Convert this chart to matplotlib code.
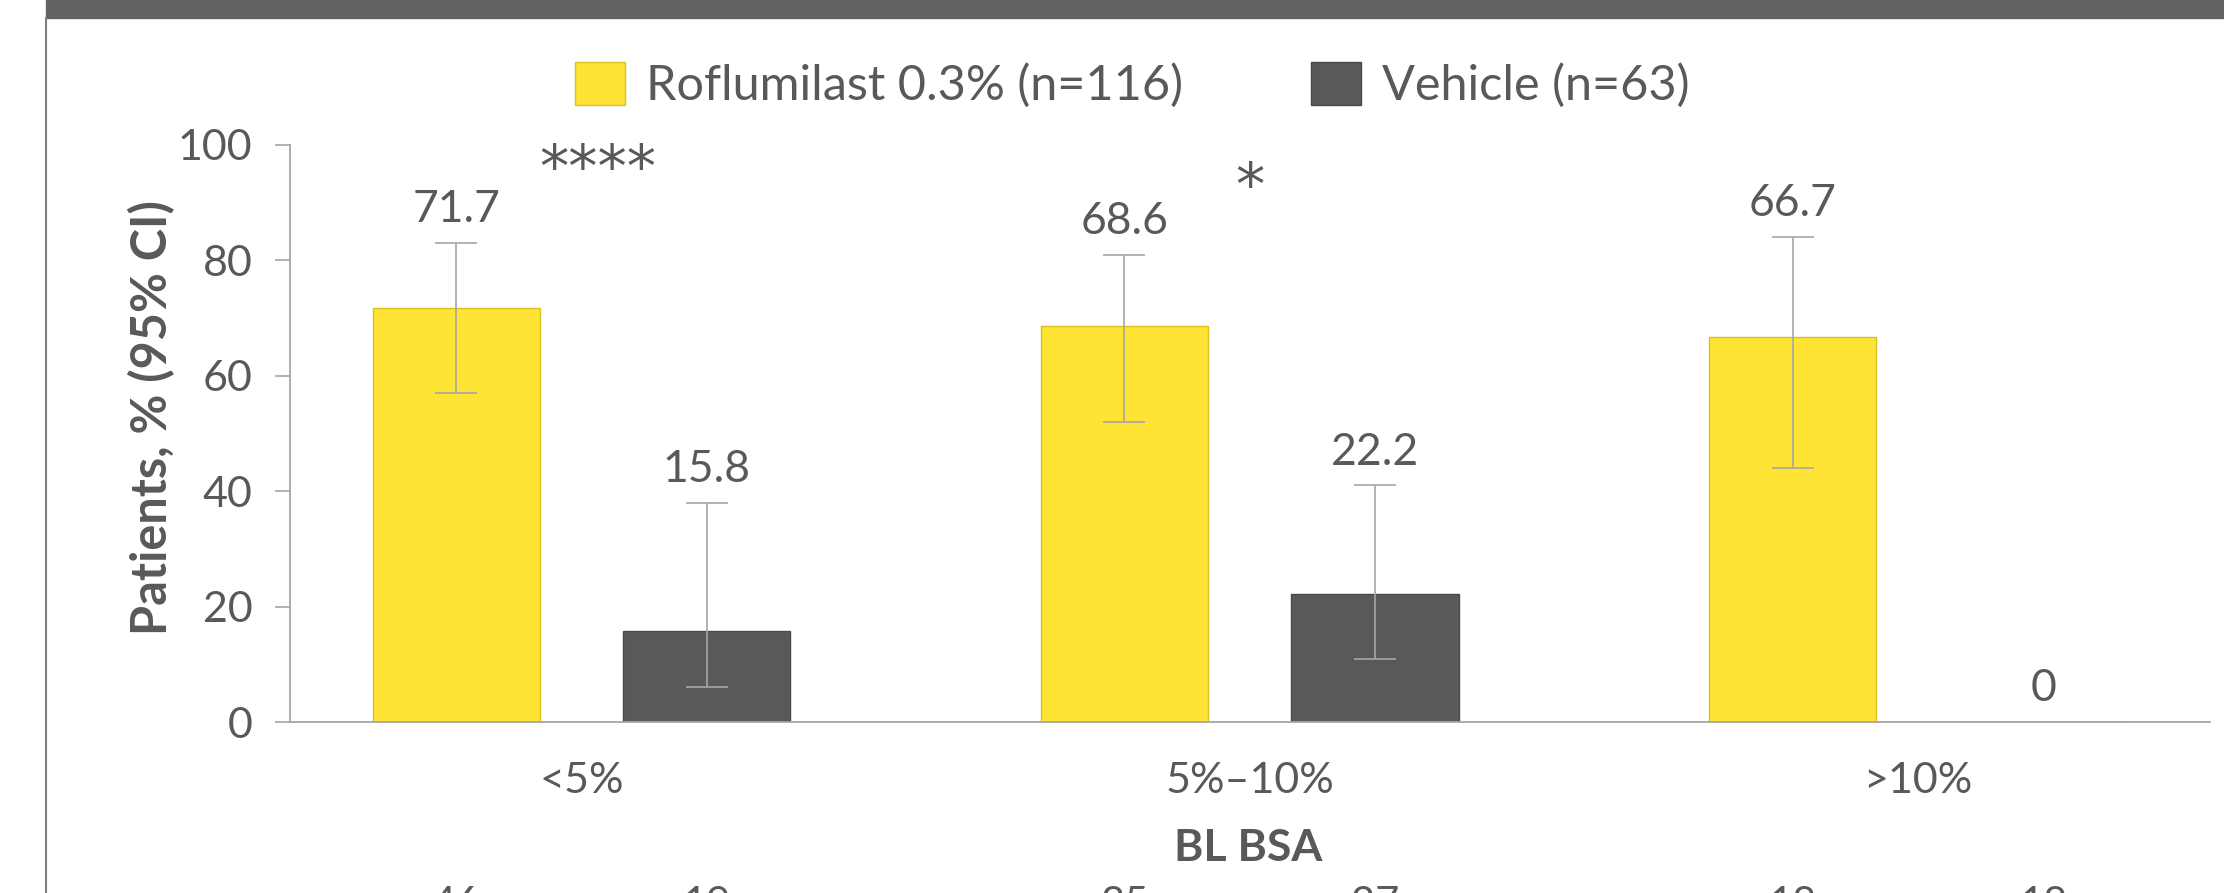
import numpy as np
import matplotlib.pyplot as plt
from matplotlib.patches import Rectangle
from matplotlib.lines import Line2D

# data
categories = ['<5%', '5%–10%', '>10%']
roflumilast = [71.7, 68.6, 66.7]
vehicle = [15.8, 22.2, 0]
rof_ci_low = [57, 52, 44]
rof_ci_high = [83, 81, 84]
veh_ci_low = [6, 11, np.nan]
veh_ci_high = [38, 41, np.nan]
rof_n = ['46', '35', '18']
veh_n = ['19', '27', '18']
stars = ['****', '*', '']

plt.rcParams['font.family'] = ['Lato', 'DejaVu Sans']
TEXT = '#595959'
YELLOW = '#FFE335'
DARK = '#595959'
GREY = '#A6A6A6'

W, H = 2224, 893
fig = plt.figure(figsize=(W / 100, H / 100), dpi=100)
ax = fig.add_axes([290 / W, 171 / H, 1920 / W, 577 / H])

x = np.arange(len(categories))
off = 0.1875
width = 0.25

ax.bar(x - off, roflumilast, width, color=YELLOW, edgecolor='#D9C21E', linewidth=1,
       label='Roflumilast 0.3% (n=116)', zorder=2)
ax.bar(x + off, vehicle, width, color=DARK, edgecolor='#4A4A4A', linewidth=1,
       label='Vehicle (n=63)', zorder=2)


def draw_ci(xpos, vals, lo, hi):
    vals = np.array(vals, dtype=float)
    err = [vals - np.array(lo, dtype=float), np.array(hi, dtype=float) - vals]
    ax.errorbar(xpos, vals, yerr=err, fmt='none', ecolor=GREY, elinewidth=1.2,
                capsize=15, capthick=1.2, zorder=3)


draw_ci(x - off, roflumilast, rof_ci_low, rof_ci_high)
draw_ci(x + off, vehicle, veh_ci_low, veh_ci_high)

# value labels above the CI
for xpos, vals, hi in [(x - off, roflumilast, rof_ci_high), (x + off, vehicle, veh_ci_high)]:
    for xi, v, h in zip(xpos, vals, hi):
        top = v if np.isnan(h) else h
        ax.annotate('{:g}'.format(v), (xi, top), xytext=(0, 15), textcoords='offset points',
                    ha='center', va='baseline', fontsize=32, color=TEXT)

# significance markers (DejaVu asterisk is closer in size to the original)
for xi, s in zip(x, stars):
    if s:
        many = len(s) > 1
        ax.text(xi + (0.025 if many else 0), 92.8 if many else 89.6, s,
                ha='center', va='baseline', fontsize=42, color=TEXT, family='DejaVu Sans')

# n per subgroup, cut by the lower image edge
for xpos, ns in [(x - off, rof_n), (x + off, veh_n)]:
    for xi, n in zip(xpos, ns):
        ax.annotate(n, (xi, 1 - 886 / H), xycoords=('data', 'figure fraction'),
                    ha='center', va='top', fontsize=30, color=TEXT, annotation_clip=False)

ax.set_xlim(-0.436, 2.437)
ax.set_ylim(0, 100)
ax.set_yticks(np.arange(0, 101, 20))
ax.set_xticks(x)
ax.set_xticklabels(categories)
ax.tick_params(axis='y', length=11, width=1.2, color=GREY, labelsize=31, labelcolor=TEXT, pad=16)
ax.tick_params(axis='x', length=0, labelsize=31, labelcolor=TEXT, pad=29)
for side in ['top', 'right']:
    ax.spines[side].set_visible(False)
for side in ['left', 'bottom']:
    ax.spines[side].set_color(GREY)
    ax.spines[side].set_linewidth(1.3)

fig.text(152 / W, 1 - 418 / H, 'Patients, % (95% CI)', rotation=90, ha='center', va='center',
         fontsize=35, fontweight='bold', color=TEXT)
fig.text(1248 / W, 1 - 848 / H, 'BL BSA', ha='center', va='center',
         fontsize=32, fontweight='bold', color=TEXT)

ax.legend(loc='center', bbox_to_anchor=(1132 / W, 1 - 85 / H), bbox_transform=fig.transFigure,
          ncol=2, frameon=False, fontsize=35, labelcolor=TEXT, handlelength=1.03,
          handleheight=0.99, handletextpad=0.43, columnspacing=2.63, borderpad=0, borderaxespad=0)

# panel frame: dark band on top, thin line on the left
fig.patches.append(Rectangle((46 / W, 1 - 18 / H), 1, 18 / H, transform=fig.transFigure,
                             color='#636363', zorder=0))
fig.add_artist(Line2D([46 / W, 46 / W], [0, 1 - 18 / H], transform=fig.transFigure,
                      color='#7F7F7F', linewidth=1.5))

fig.savefig('out.png', dpi=100)
